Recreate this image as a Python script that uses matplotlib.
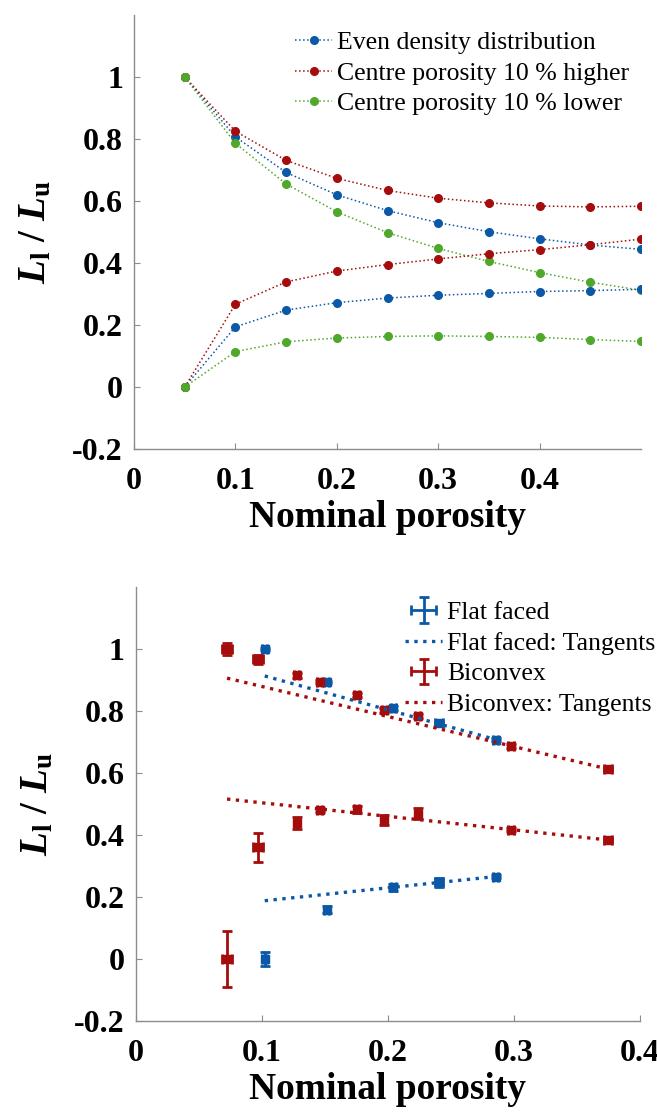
import matplotlib
matplotlib.use("Agg")
import matplotlib.pyplot as plt

plt.rcParams['font.family'] = ['Liberation Serif', 'DejaVu Serif']
plt.rcParams['mathtext.fontset'] = 'custom'
plt.rcParams['mathtext.it'] = 'Liberation Serif:italic:bold'
plt.rcParams['mathtext.rm'] = 'Liberation Serif:bold'
plt.rcParams['mathtext.bf'] = 'Liberation Serif:bold'

# ---------------- data: top panel ----------------
porosity = [0.05, 0.10, 0.15, 0.20, 0.25, 0.30, 0.35, 0.40, 0.45, 0.50]
even_upper = [1.0, 0.807, 0.692, 0.620, 0.569, 0.530, 0.501, 0.478, 0.458, 0.444]
even_lower = [0.0, 0.194, 0.248, 0.272, 0.287, 0.296, 0.302, 0.308, 0.311, 0.315]
higher_upper = [1.0, 0.825, 0.731, 0.673, 0.634, 0.609, 0.594, 0.584, 0.581, 0.583]
higher_lower = [0.0, 0.267, 0.339, 0.374, 0.395, 0.413, 0.430, 0.443, 0.459, 0.477]
lower_upper = [1.0, 0.786, 0.655, 0.565, 0.498, 0.447, 0.405, 0.369, 0.338, 0.312]
lower_lower = [0.0, 0.114, 0.146, 0.158, 0.163, 0.165, 0.163, 0.160, 0.153, 0.147]
top_labels = ["Even density distribution", "Centre porosity 10 % higher",
              "Centre porosity 10 % lower"]

# ---------------- data: bottom panel ----------------
ff_x = [0.1024, 0.1515, 0.2044, 0.2406, 0.2856]
ff_xerr = [0.002, 0.002, 0.002, 0.003, 0.002]
ff_upper = [1.0, 0.894, 0.809, 0.761, 0.708]
ff_upper_err = [0.004, 0.004, 0.006, 0.005, 0.005]
ff_lower = [0.0, 0.159, 0.231, 0.247, 0.266]
ff_lower_err = [0.023, 0.012, 0.012, 0.014, 0.006]

bc_x = [0.0725, 0.0968, 0.1277, 0.1462, 0.1753, 0.1972, 0.2237, 0.2977, 0.3744]
bc_xerr = [0.004, 0.004, 0.002, 0.002, 0.002, 0.002, 0.002, 0.002, 0.003]
bc_upper = [1.0, 0.967, 0.915, 0.894, 0.851, 0.803, 0.783, 0.687, 0.613]
bc_upper_err = [0.02, 0.015, 0.008, 0.005, 0.006, 0.008, 0.006, 0.005, 0.004]
bc_lower = [0.0, 0.36, 0.439, 0.480, 0.483, 0.449, 0.469, 0.417, 0.384]
bc_lower_err = [0.09, 0.047, 0.02, 0.006, 0.012, 0.016, 0.018, 0.005, 0.004]

ff_tan_x = [0.1024, 0.2856]
ff_tan_upper = [0.913, 0.708]
ff_tan_lower = [0.188, 0.266]
bc_tan_x = [0.0725, 0.3744]
bc_tan_upper = [0.906, 0.613]
bc_tan_lower = [0.516, 0.384]
bottom_labels = ["Flat faced", "Flat faced: Tangents", "Biconvex", "Biconvex: Tangents"]

yticks = [-0.2, 0, 0.2, 0.4, 0.6, 0.8, 1]
ytick_labels = ["-0.2", "0", "0.2", "0.4", "0.6", "0.8", "1"]
xticks = [0, 0.1, 0.2, 0.3, 0.4]
xtick_labels = ["0", "0.1", "0.2", "0.3", "0.4"]

BLUE = '#0b58a6'
RED = '#a50d0d'
GREEN = '#4fa82c'
GRAY = '#8c8c8c'

W, H = 657, 1112
fig = plt.figure(figsize=(W / 100, H / 100), dpi=100)
ax1 = fig.add_axes([134 / W, 1 - 449 / H, (641 - 134) / W, (449 - 15) / H])
ax2 = fig.add_axes([135.6 / W, 1 - 1021 / H, (640 - 135.6) / W, (1021 - 587) / H])


def style(ax, xmax):
    ax.set_ylim(-0.2, 1.2)
    ax.set_xlim(0, xmax)
    ax.set_yticks(yticks)
    ax.set_yticklabels(ytick_labels)
    ax.set_xticks(xticks)
    ax.set_xticklabels(xtick_labels)
    for s in ['top', 'right']:
        ax.spines[s].set_visible(False)
    for s in ['left', 'bottom']:
        ax.spines[s].set_color(GRAY)
        ax.spines[s].set_linewidth(1.0)
    ax.tick_params(direction='in', length=4, width=0.8, color=GRAY,
                   labelsize=23)
    ax.tick_params(axis='x', pad=13)
    ax.tick_params(axis='y', pad=8)
    for lab in ax.get_xticklabels() + ax.get_yticklabels():
        lab.set_fontweight('bold')
    ax.set_xlabel('Nominal porosity', fontsize=27, fontweight='bold', labelpad=3)
    ax.set_ylabel(r'$L_{\mathrm{l}}\ /\ L_{\mathrm{u}}$', fontsize=28)
    ax.yaxis.set_label_coords(-0.157, 0.5)


# ---------------- top panel ----------------
style(ax1, 0.5)
kw = dict(linestyle=':', linewidth=1.1, marker='o', markersize=5.5)
ax1.plot(porosity, even_upper, color=BLUE, label=top_labels[0], **kw)
ax1.plot(porosity, higher_upper, color=RED, label=top_labels[1], **kw)
ax1.plot(porosity, lower_upper, color=GREEN, label=top_labels[2], **kw)
ax1.plot(porosity, even_lower, color=BLUE, **kw)
ax1.plot(porosity, higher_lower, color=RED, **kw)
ax1.plot(porosity, lower_lower, color=GREEN, **kw)
ax1.legend(loc='upper left', bbox_to_anchor=(295 / W, 1 - 31 / H),
           bbox_transform=fig.transFigure, frameon=False, fontsize=18.5,
           handlelength=1.45, handletextpad=0.2, labelspacing=0.3,
           borderaxespad=0, borderpad=0, numpoints=1)

# ---------------- bottom panel ----------------
style(ax2, 0.4)
ekw = dict(fmt='none', elinewidth=2.0, capsize=3.5, capthick=2.0)
h_ff = ax2.errorbar(ff_x, ff_upper, yerr=ff_upper_err, xerr=ff_xerr, ecolor=BLUE, **ekw)
ax2.errorbar(ff_x, ff_lower, yerr=ff_lower_err, xerr=ff_xerr, ecolor=BLUE, **ekw)
h_bc = ax2.errorbar(bc_x, bc_upper, yerr=bc_upper_err, xerr=bc_xerr, ecolor=RED, **ekw)
ax2.errorbar(bc_x, bc_lower, yerr=bc_lower_err, xerr=bc_xerr, ecolor=RED, **ekw)
mkw = dict(linestyle='none', marker='s', markersize=5.5)
ax2.plot(ff_x, ff_upper, color=BLUE, **mkw)
ax2.plot(ff_x, ff_lower, color=BLUE, **mkw)
ax2.plot(bc_x, bc_upper, color=RED, **mkw)
ax2.plot(bc_x, bc_lower, color=RED, **mkw)
tkw = dict(linestyle=':', linewidth=2.4)
t_ff, = ax2.plot(ff_tan_x, ff_tan_upper, color=BLUE, **tkw)
ax2.plot(ff_tan_x, ff_tan_lower, color=BLUE, **tkw)
t_bc, = ax2.plot(bc_tan_x, bc_tan_upper, color=RED, **tkw)
ax2.plot(bc_tan_x, bc_tan_lower, color=RED, **tkw)
ax2.legend([h_ff, t_ff, h_bc, t_bc], bottom_labels,
           loc='upper left', bbox_to_anchor=(405 / W, 1 - 601 / H),
           bbox_transform=fig.transFigure, frameon=False, fontsize=18.5,
           handlelength=1.45, handletextpad=0.2, labelspacing=0.3,
           borderaxespad=0, borderpad=0)

fig.savefig('out.png', dpi=100)
